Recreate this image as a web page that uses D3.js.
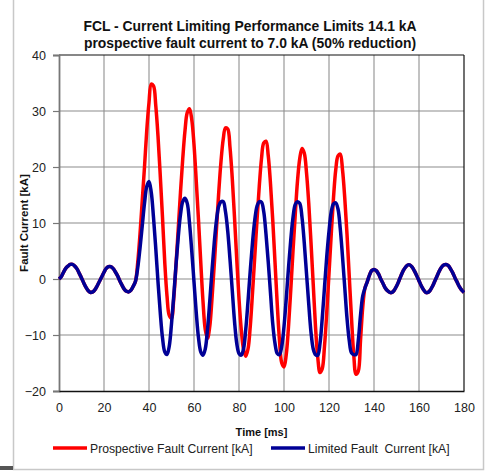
<!DOCTYPE html>
<html>
<head>
<meta charset="utf-8">
<script src="https://cdn.jsdelivr.net/npm/d3@7"></script>
<style>
  body { margin: 0; background: #fff; }
  svg text { font-family: "Liberation Sans", Arial, sans-serif; }
</style>
</head>
<body>
<div id="chart"></div>
<script>
// time axis, 1 ms steps
const timeMs = d3.range(0, 181);

// Prospective fault current [kA]
const prospective = [
  0, 0.4, 1.2, 1.9, 2.3, 2.6, 2.6, 2.3, 1.8, 1.0,
  0.2, -0.7, -1.5, -2.1, -2.4, -2.3, -1.9, -1.2, -0.4, 0.4,
  1.2, 1.9, 2.2, 2.2, 1.9, 1.3, 0.6, -0.3, -1.1, -1.8,
  -2.2, -2.3, -2.0, -1.3, -0.4, 3, 8, 14, 20, 26.5,
  31.5, 34.8, 34.5, 31, 25.5, 18.5, 11, 3, -3, -6.5,
  -7, -3.5, 2.5, 9, 15.5, 21.5, 26.5, 29.7, 30.4, 28.5,
  24, 17.5, 10.5, 3, -4, -9, -10.6, -8.5, -3.5, 2.5,
  9, 15.5, 21, 25, 27, 26.8, 23.5, 18, 11, 3.5,
  -3.5, -9, -12.5, -13.8, -12.5, -8.5, -2.5, 4, 10.5, 16.5,
  21.5, 24.3, 24.6, 22, 17, 10.5, 3, -4.5, -11, -15,
  -15.7, -13.5, -8.5, -2, 5, 11.5, 17.5, 21.5, 23.3, 22.5,
  19, 13.5, 6.5, -1, -8.5, -14, -16.7, -16, -12, -6,
  1, 8, 14.5, 19.5, 22, 22.3, 19.5, 14.5, 8, 0.5,
  -7, -13.5, -17, -16.5, -11, -5, -1.6, -0.5, 0.7, 1.5,
  1.7, 1.5, 0.9, 0, -0.8, -1.6, -2.1, -2.4, -2.4, -2.0,
  -1.3, -0.4, 0.6, 1.5, 2.1, 2.5, 2.5, 2.1, 1.4, 0.6,
  -0.3, -1.2, -1.9, -2.4, -2.4, -2.0, -1.3, -0.4, 0.5, 1.4,
  2.1, 2.5, 2.6, 2.4, 1.8, 1.1, 0.2, -0.6, -1.4, -2.0,
  -2.4
];

// Limited fault current [kA]
const limited = [
  0, 0.4, 1.2, 1.9, 2.3, 2.6, 2.6, 2.3, 1.8, 1.0,
  0.2, -0.7, -1.5, -2.1, -2.4, -2.3, -1.9, -1.2, -0.4, 0.4,
  1.2, 1.9, 2.2, 2.2, 1.9, 1.3, 0.6, -0.3, -1.1, -1.8,
  -2.2, -2.3, -2.0, -1.3, -0.4, 2, 5.5, 9.5, 13.5, 16.5,
  17.4, 15.5, 11, 5.5, -0.5, -6, -10.5, -13, -13.5, -12,
  -8, -3, 2.5, 7.5, 11.5, 13.8, 14.4, 13.5, 10, 5,
  -0.5, -6, -10.5, -13, -13.6, -12.5, -9, -4, 1.5, 6.5,
  10.5, 13, 13.8, 13.8, 12, 8.5, 3.5, -2, -7.5, -11.5,
  -13.3, -13.6, -12.5, -9, -4, 1.5, 6.5, 10.5, 13, 13.8,
  13.7, 12, 8, 3, -2.5, -8, -11.5, -13.3, -13.5, -12,
  -8.5, -3.5, 2, 7, 11, 13.3, 13.8, 13.5, 11, 6.5,
  1, -4.5, -9.5, -12.5, -13.5, -13.6, -11.5, -7, -1.5, 4,
  8.5, 12, 13.4, 13.6, 12.5, 9, 4, -1.5, -7, -11,
  -13.2, -13.5, -13.5, -11, -6.5, -3, -1.6, -0.5, 0.7, 1.5,
  1.7, 1.5, 0.9, 0, -0.8, -1.6, -2.1, -2.4, -2.4, -2.0,
  -1.3, -0.4, 0.6, 1.5, 2.1, 2.5, 2.5, 2.1, 1.4, 0.6,
  -0.3, -1.2, -1.9, -2.4, -2.4, -2.0, -1.3, -0.4, 0.5, 1.4,
  2.1, 2.5, 2.6, 2.4, 1.8, 1.1, 0.2, -0.6, -1.4, -2.0,
  -2.4
];

const xTicks = [0, 20, 40, 60, 80, 100, 120, 140, 160, 180];
const yTicks = [-20, -10, 0, 10, 20, 30, 40];

const titleLines = [
  "FCL - Current Limiting Performance Limits 14.1 kA",
  "prospective fault current to 7.0 kA (50% reduction)"
];
const seriesNames = ["Prospective Fault Current [kA]", "Limited Fault\u00a0 Current [kA]"];
const seriesColors = ["#ff0000", "#000096"];

const width = 487, height = 474;
const plot = { left: 59, right: 464, top: 55, bottom: 391 };

const svg = d3.select("#chart")
  .append("svg")
  .attr("width", width)
  .attr("height", height);

svg.append("rect")
  .attr("width", width).attr("height", height)
  .style("fill", "white");

// outer chart frame
svg.append("rect")
  .attr("x", 13.5).attr("y", -1)
  .attr("width", 470).attr("height", 470.5)
  .style("fill", "none")
  .style("stroke", "#c8c8c8")
  .style("stroke-width", 1.5);

// bits of the screenshot below the frame
svg.append("rect")
  .attr("x", 0).attr("y", 466)
  .attr("width", 13).attr("height", 4)
  .style("fill", "#555");

const x = d3.scaleLinear().domain([0, 180]).range([plot.left, plot.right]);
const y = d3.scaleLinear().domain([-20, 40]).range([plot.bottom, plot.top]);

// grid
svg.append("g")
  .selectAll("line")
  .data(xTicks.slice(1, -1))
  .join("line")
  .attr("x1", d => x(d)).attr("x2", d => x(d))
  .attr("y1", plot.top).attr("y2", plot.bottom)
  .style("stroke", "#999")
  .style("stroke-width", 1.2);

svg.append("g")
  .selectAll("line")
  .data(yTicks.slice(1, -1))
  .join("line")
  .attr("x1", plot.left).attr("x2", plot.right)
  .attr("y1", d => y(d)).attr("y2", d => y(d))
  .style("stroke", "#8c8c8c")
  .style("stroke-width", 1.2);

// plot border
svg.append("line")
  .attr("x1", plot.left).attr("x2", plot.right)
  .attr("y1", plot.top).attr("y2", plot.top)
  .style("stroke", "#111").style("stroke-width", 1.2);
svg.append("line")
  .attr("x1", plot.right).attr("x2", plot.right)
  .attr("y1", plot.top).attr("y2", plot.bottom)
  .style("stroke", "#111").style("stroke-width", 1.2);

// y axis
const yAxis = d3.axisLeft(y).tickValues(yTicks).tickSize(6).tickPadding(7);
const ya = svg.append("g")
  .attr("transform", "translate(" + plot.left + ",0)")
  .call(yAxis);
ya.select(".domain").style("stroke", "#777").style("stroke-width", 1.8);
ya.selectAll(".tick line").style("stroke", "#777").style("stroke-width", 1.2);
ya.selectAll("text").style("font-size", "12.5px").style("fill", "#222");

// x axis
const xAxis = d3.axisBottom(x).tickValues(xTicks).tickSize(0).tickPadding(12);
const xa = svg.append("g")
  .attr("transform", "translate(0," + plot.bottom + ")")
  .call(xAxis);
xa.select(".domain").style("stroke", "#111").style("stroke-width", 1.5);
xa.selectAll("text").style("font-size", "12.5px").style("fill", "#222");

// series
const line = d3.line()
  .x((d, i) => x(timeMs[i]))
  .y(d => y(d))
  .curve(d3.curveCatmullRom);

[prospective, limited].forEach((s, k) => {
  svg.append("path")
    .datum(s)
    .attr("d", line)
    .style("fill", "none")
    .style("stroke", seriesColors[k])
    .style("stroke-width", 3.5)
    .style("stroke-linejoin", "round");
});

// title
svg.append("g")
  .selectAll("text")
  .data(titleLines)
  .join("text")
  .attr("x", 250)
  .attr("y", (d, i) => 31 + i * 16.5)
  .attr("text-anchor", "middle")
  .style("font-size", "13.9px")
  .style("font-weight", "bold")
  .style("fill", "#111")
  .text(d => d);

// axis titles
svg.append("text")
  .attr("transform", "translate(28," + ((plot.top + plot.bottom) / 2) + ") rotate(-90)")
  .attr("text-anchor", "middle")
  .style("font-size", "11.5px")
  .style("font-weight", "bold")
  .style("fill", "#111")
  .text("Fault Current [kA]");

svg.append("text")
  .attr("x", (plot.left + plot.right) / 2)
  .attr("y", 436)
  .attr("text-anchor", "middle")
  .style("font-size", "11px")
  .style("font-weight", "bold")
  .style("fill", "#111")
  .text("Time [ms]");

// legend
const legendX = [53, 271];
const lg = svg.append("g")
  .selectAll("g")
  .data(seriesNames)
  .join("g")
  .attr("transform", (d, i) => "translate(" + legendX[i] + ",448)");

lg.append("line")
  .attr("x1", 0).attr("x2", 34)
  .attr("y1", 0).attr("y2", 0)
  .style("stroke", (d, i) => seriesColors[i])
  .style("stroke-width", 3.5);

lg.append("text")
  .attr("x", 37)
  .attr("y", 4.5)
  .style("font-size", "12.2px")
  .style("fill", "#222")
  .text(d => d);
</script>
</body>
</html>
